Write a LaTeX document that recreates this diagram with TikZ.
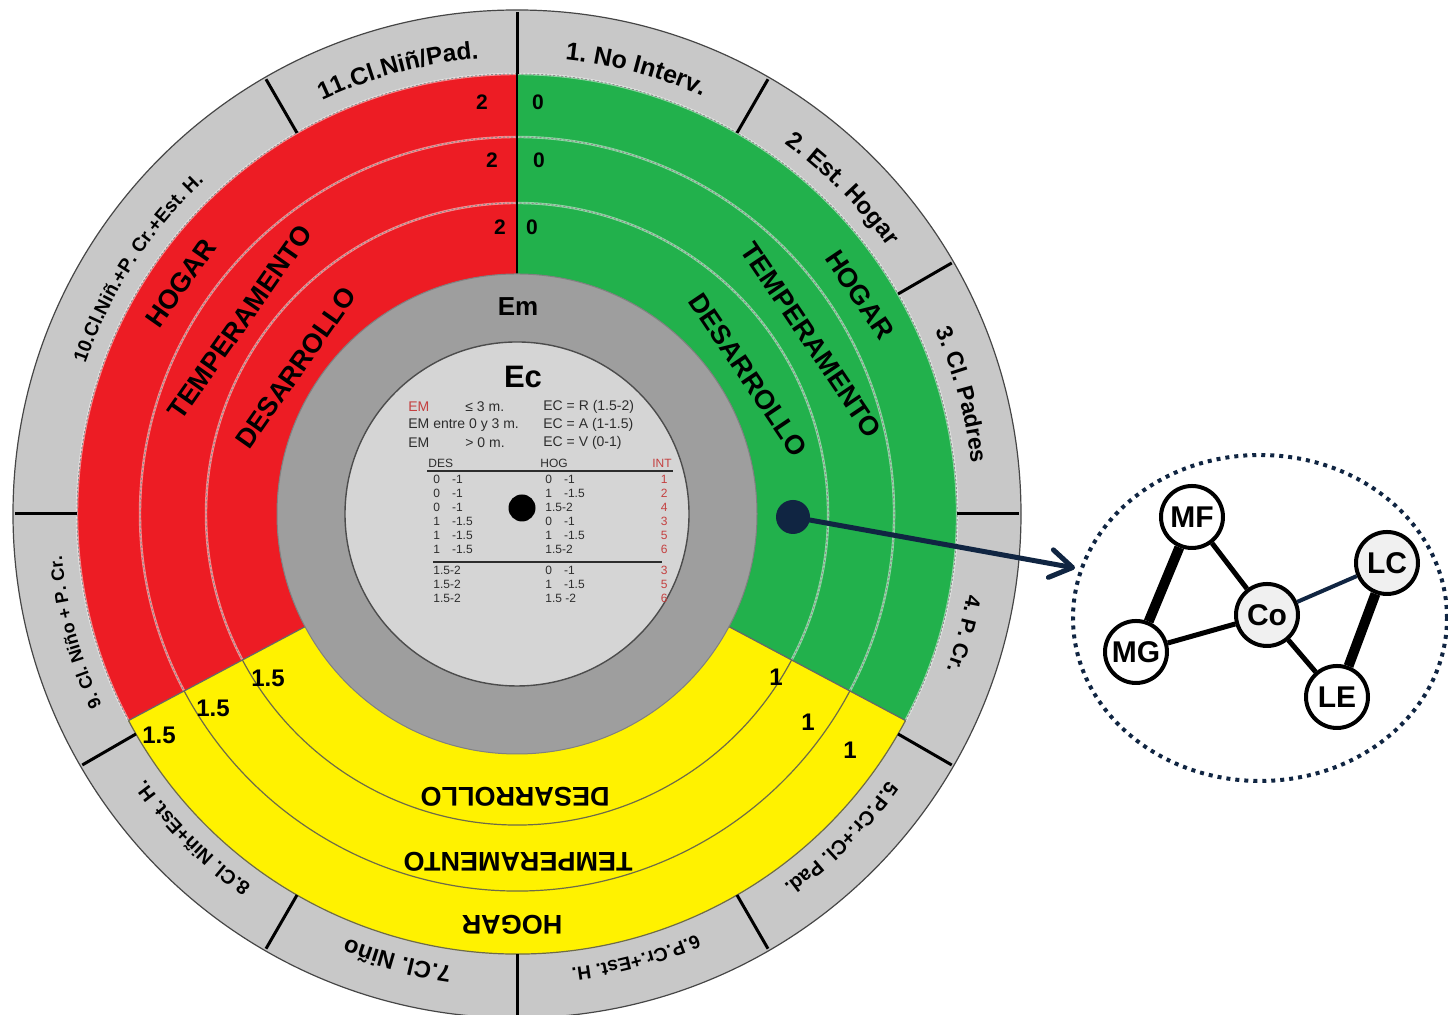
\documentclass[tikz,border=0pt]{standalone}
\usepackage{fontspec}
\setmainfont{Liberation Sans}
\usetikzlibrary{decorations.text,arrows.meta,shapes.geometric}
\definecolor{wred}{RGB}{237,28,36}
\definecolor{wgreen}{RGB}{34,177,76}
\definecolor{wyellow}{RGB}{255,242,0}
\definecolor{ringgray}{RGB}{200,200,200}
\definecolor{emgray}{RGB}{158,158,158}
\definecolor{ingray}{RGB}{213,213,213}
\definecolor{navy}{RGB}{16,37,66}
\definecolor{tred}{RGB}{196,64,64}
\definecolor{tgray}{RGB}{45,45,45}
\definecolor{cogray}{RGB}{240,240,240}
\newcommand\rlab[3]{%
  \pgfmathsetmacro\rlabS{#1+40}\pgfmathsetmacro\rlabE{#1-40}%
  \path[decorate,decoration={text along path,text align=center,
    text={|\fontsize{#2}{#2}\selectfont\bfseries|#3}}]
    (\rlabS:457) arc[start angle=\rlabS,end angle=\rlabE,radius=457];}
\begin{document}
\begin{tikzpicture}[x=0.5pt,y=0.5pt,
  bandtxt/.style={font=\fontsize{13.5}{14}\selectfont\bfseries, inner sep=0},
  numtxt/.style={font=\fontsize{10.5}{10.5}\selectfont\bfseries, inner sep=0},
  sctxt/.style={font=\fontsize{12}{12}\selectfont\bfseries, inner sep=0},
  divline/.style={black, line width=1.5pt},
  sepbase/.style={white, opacity=0.5, line width=1.2pt},
  sepdash/.style={black!45, line width=0.5pt, dash pattern=on 1pt off 1pt},
  sepyel/.style={black!65!yellow, line width=0.6pt},
  tt/.style={font=\fontsize{7}{7}\selectfont, text=tgray, anchor=west, inner sep=0},
  td/.style={font=\fontsize{6}{6}\selectfont, text=tgray, anchor=west, inner sep=0},
  gnode/.style={circle, draw=black, line width=2pt, fill=white, minimum size=31pt,
    inner sep=0, font=\fontsize{15}{15}\selectfont\bfseries},
  thick1/.style={black, line width=5pt},
  thick2/.style={black, line width=2.5pt}]
\useasboundingbox (0,0) rectangle (1448,1015);
\begin{scope}[shift={(517,501)}]
  \fill[ringgray] (0,0) circle[radius=504];
  \draw[gray!55!black, line width=0.6pt] (0,0) circle[radius=504];
  \fill[wred] (90:440) arc[start angle=90,end angle=208,radius=440] -- (208:240)
     arc[start angle=208,end angle=90,radius=240] -- cycle;
  \fill[wyellow] (208:440) arc[start angle=208,end angle=332,radius=440] -- (332:240)
     arc[start angle=332,end angle=208,radius=240] -- cycle;
  \fill[wgreen] (-28:440) arc[start angle=-28,end angle=90,radius=440] -- (90:240)
     arc[start angle=90,end angle=-28,radius=240] -- cycle;
  \foreach \r in {440,377,311} {
    \draw[sepbase] (90:\r) arc[start angle=90,end angle=208,radius=\r];
    \draw[sepdash] (90:\r) arc[start angle=90,end angle=208,radius=\r];
    \draw[sepbase] (-28:\r) arc[start angle=-28,end angle=90,radius=\r];
    \draw[sepdash] (-28:\r) arc[start angle=-28,end angle=90,radius=\r];
    \draw[sepyel] (208:\r) arc[start angle=208,end angle=332,radius=\r];
  }
  \draw[black!60, line width=0.6pt] (208:240) -- (208:440);
  \draw[black!60, line width=0.6pt] (332:240) -- (332:440);
  \draw[black, line width=0.8pt] (90:240) -- (90:440);
  \fill[emgray] (0,0) circle[radius=240];
  \draw[black!50, line width=0.5pt] (0,0) circle[radius=240];
  \fill[ingray] (0,0) circle[radius=172];
  \draw[black!70, line width=0.7pt] (0,0) circle[radius=172];
  \foreach \a in {90,60,30,0,-30,-60,-90,-120,-150,180,120}
    \draw[divline] (\a:440) -- (\a:502);
  \rlab{75}{12.5}{1. No Interv.}
  \rlab{45}{12}{2. Est. Hogar}
  \rlab{15}{11.5}{3. Cl. Padres}
  \rlab{-15}{10.5}{4. P. Cr.}
  \rlab{-45}{10}{5.P.Cr.+Cl. Pad.}
  \rlab{-75}{9.5}{6.P.Cr.+Est. H.}
  \rlab{-105}{11.8}{7.Cl. Niño}
  \rlab{-135}{9.8}{8.Cl. Niñ+Est. H.}
  \rlab{-165}{9}{9. Cl. Niño + P. Cr.}
  \rlab{147}{9.6}{10.Cl.Niñ.+P. Cr.+Est. H.}
  \rlab{105}{12.2}{11.Cl.Niñ/Pad.}
  \node[bandtxt, rotate=55] (rh) at (145.5:408) {HOGAR};
  \node[bandtxt, rotate=55] (rt) at (145.3:337) {TEMPERAMENTO};
  \node[bandtxt, rotate=55] (rd) at (146.5:265) {DESARROLLO};
  \node[bandtxt, rotate=-56] (gh) at (32.6:407) {HOGAR};
  \node[bandtxt, rotate=-56] (gt) at (30.6:342) {TEMPERAMENTO};
  \node[bandtxt, rotate=-56] (gd) at (31:270) {DESARROLLO};
  \node[bandtxt, rotate=180] (yd) at (-2,-283) {DESARROLLO};
  \node[bandtxt, rotate=180] (yt) at (1,-348) {TEMPERAMENTO};
  \node[bandtxt, rotate=180] (yh) at (-5,-411) {HOGAR};
\end{scope}
% numbers
\node[numtxt] (n2a) at (482,913) {2};
\node[numtxt] (n0a) at (538,913) {0};
\node[numtxt] (n2b) at (492,855) {2};
\node[numtxt] (n0b) at (539,855) {0};
\node[numtxt] (n2c) at (500,788) {2};
\node[numtxt] (n0c) at (532,788) {0};
\node[sctxt] (f1) at (268,337) {1.5};
\node[sctxt] (f2) at (213,307) {1.5};
\node[sctxt] (f3) at (159,280) {1.5};
\node[sctxt] (o1) at (776,338) {1};
\node[sctxt] (o2) at (808,293) {1};
\node[sctxt] (o3) at (850,265) {1};
% center
\node[font=\fontsize{13}{13}\selectfont\bfseries, inner sep=0] (em) at (518,708) {Em};
\node[font=\fontsize{15.5}{15.5}\selectfont\bfseries, inner sep=0] (ec) at (523,638) {Ec};
\node[tt, text=tred] (e1a) at (408,608) {EM};
\node[tt] (e1b) at (465,608) {≤ 3 m.};
\node[tt] (e1c) at (543,608) {EC = R (1.5-2)};
\node[tt] (e2a) at (408,590) {EM entre 0 y 3 m.};
\node[tt] (e2c) at (543,590) {EC = A (1-1.5)};
\node[tt] (e3a) at (408,572) {EM};
\node[tt] (e3b) at (465,572) {> 0 m.};
\node[tt] (e3c) at (543,572) {EC = V (0-1)};
\node[td] (hd) at (428,552) {DES};
\node[td] (hh) at (540,552) {HOG};
\node[td, text=tred, anchor=east] (hi) at (672,552) {INT};
\draw[tgray, line width=0.8pt] (427,544) -- (673,544);
\draw[tgray, line width=0.8pt] (433,453) -- (662,453);
\foreach \y/\d/\h/\i in {536/{0\quad-1}/{0\quad-1}/1, 522/{0\quad-1}/{1\quad-1.5}/2,
   508/{0\quad-1}/{1.5-2}/4, 494/{1\quad-1.5}/{0\quad-1}/3, 480/{1\quad-1.5}/{1\quad-1.5}/5,
   466/{1\quad-1.5}/{1.5-2}/6, 445/{1.5-2}/{0\quad-1}/3, 431/{1.5-2}/{1\quad-1.5}/5,
   417/{1.5-2}/{1.5 -2}/6} {
  \node[td] (d\y) at (433,\y) {\d};
  \node[td] (h\y) at (545,\y) {\h};
  \node[td, text=tred, anchor=east] (i\y) at (668,\y) {\i};
}
\node[circle, fill=black, minimum size=13.5pt, inner sep=0] (cdot) at (522,507) {};
% right part
\node[ellipse, draw=navy, line width=2pt, dash pattern=on 2pt off 2.5pt,
  minimum width=187pt, minimum height=163pt, inner sep=0] (cloud) at (1260,397) {};
\node[circle, fill=navy, minimum size=17pt, inner sep=0] (dot) at (793,498) {};
\coordinate (aend) at (1075,447);
\draw[navy, line width=2.5pt, -{Straight Barb[length=11pt,width=14pt,line cap=round,line join=round]}] (dot.center) -- (aend);
\node[gnode] (MF) at (1192,498) {MF};
\node[gnode] (MG) at (1136,363) {MG};
\node[gnode, fill=cogray] (Co) at (1267,400) {Co};
\node[gnode, fill=cogray] (LC) at (1387,452) {LC};
\node[gnode] (LE) at (1337,318) {LE};
\draw[thick1] (MF) -- (MG);
\draw[thick1] (LC) -- (LE);
\draw[thick2] (MF) -- (Co);
\draw[thick2] (MG) -- (Co);
\draw[thick2] (Co) -- (LE);
\draw[navy, line width=2pt] (Co) -- (LC);
\end{tikzpicture}
\end{document}
